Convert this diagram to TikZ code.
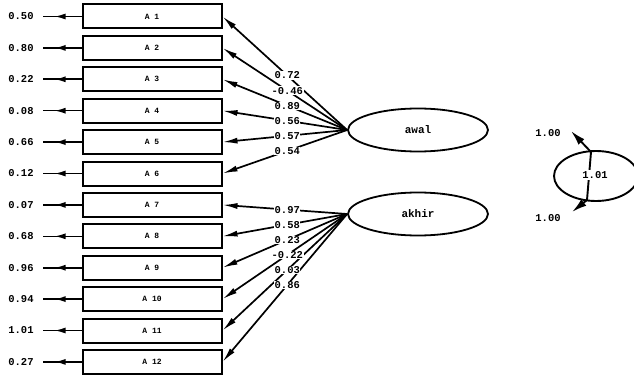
\documentclass[tikz,border=0pt]{standalone}
\usepackage{fontspec}
\setmonofont{Liberation Mono}
\usetikzlibrary{shapes.geometric,arrows.meta,decorations.markings}
\begin{document}
\begin{tikzpicture}[x=1pt,y=-1pt,
  obs/.style={draw,line width=2pt,rectangle,minimum width=139pt,minimum height=24pt,inner sep=0pt,font=\ttfamily\bfseries\fontsize{8}{8}\selectfont},
  lat/.style={draw,line width=1.8pt,ellipse,minimum width=140pt,minimum height=43pt,inner sep=0pt,font=\ttfamily\bfseries\fontsize{11}{11}\selectfont},
  errlab/.style={font=\ttfamily\bfseries\fontsize{10.5}{10.5}\selectfont,inner sep=0pt},
  errarr/.style={line width=1.6pt,postaction={decorate},decoration={markings,mark=at position 0.7 with {\arrow{Latex[length=11pt,width=6pt]}}}},
  load/.style={line width=1.7pt,-{Latex[length=15pt,width=6pt]}},
  loadlab/.style={font=\ttfamily\bfseries\fontsize{10.5}{10.5}\selectfont,fill=white,inner sep=0.6pt,pos=0.48},
  corr/.style={line width=1.9pt},
  corrarr/.style={line width=1.9pt,-{Latex[length=15pt,width=8pt]}},
]
\useasboundingbox (0,0) rectangle (634,377);
% observed variables with error terms
\foreach \i/\e in {1/0.50,2/0.80,3/0.22,4/0.08,5/0.66,6/0.12,7/0.07,8/0.68,9/0.96,10/0.94,11/1.01,12/0.27}{
  \node[obs] (A\i) at (152,{16.5+31.4*(\i-1)}) {A \i};
  \node[errlab] (e\i) at (21,{16.5+31.4*(\i-1)}) {\e};
  \coordinate (t\i) at (43,{16.5+31.4*(\i-1)});
  \draw[errarr] (A\i.west) -- (t\i);
}
% latent variables
\node[lat] (awal) at (418,130) {awal};
\node[lat] (akhir) at (418,214) {akhir};
% loadings
\foreach \i in {1,...,6}{\draw[load] (awal.west) -- (A\i.east);}
\foreach \i in {7,...,12}{\draw[load] (akhir.west) -- (A\i.east);}
\foreach \i/\v in {1/0.72,2/-0.46,3/0.89,4/0.56,5/0.57,6/0.54}{
  \path (awal.west) -- node[loadlab]{\v} (A\i.east);}
\foreach \i/\v in {7/0.97,8/0.58,9/0.23,10/-0.22,11/0.03,12/0.86}{
  \path (akhir.west) -- node[loadlab]{\v} (A\i.east);}
% covariance loop
\draw[corr] (596,176) ellipse [x radius=42pt, y radius=25pt];
\coordinate (ct) at (591,152);
\coordinate (cb) at (587,200);
\draw[corr] (ct) -- (cb);
\node[errlab,fill=white,inner sep=1pt] (cv) at (595,175) {1.01};
\node[errlab] (v1) at (548,133) {1.00};
\node[errlab] (v2) at (548,218) {1.00};
\coordinate (h1) at (571,131);
\coordinate (h2) at (572,212);
\draw[corrarr] (ct) -- (h1);
\draw[corrarr] (cb) -- (h2);
\end{tikzpicture}
\end{document}
